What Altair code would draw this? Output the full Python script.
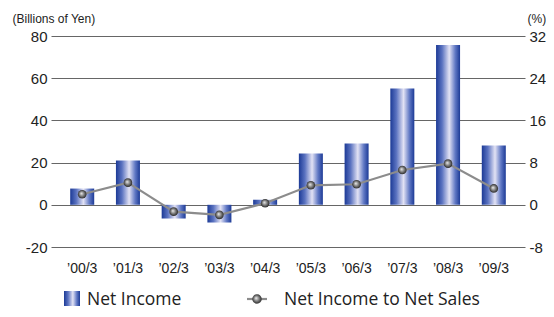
import altair as alt
import pandas as pd

years = ["’00/3", "’01/3", "’02/3", "’03/3", "’04/3", "’05/3", "’06/3", "’07/3", "’08/3", "’09/3"]
net_income = [7.7, 21.0, -6.5, -8.4, 2.4, 24.3, 29.0, 55.1, 75.7, 28.1]
ratio = [2.0, 4.2, -1.3, -1.9, 0.3, 3.7, 3.9, 6.6, 7.8, 3.1]

df = pd.DataFrame({"year": years, "income": net_income, "ratio": ratio})

bar_grad = alt.Gradient(
    gradient="linear", x1=0, x2=1, y1=0, y2=0,
    stops=[
        alt.GradientStop(offset=0, color="#1c3a96"),
        alt.GradientStop(offset=0.25, color="#5a72c0"),
        alt.GradientStop(offset=0.55, color="#e2e2f4"),
        alt.GradientStop(offset=0.8, color="#6078c4"),
        alt.GradientStop(offset=1, color="#1c3a96"),
    ],
)
ball_grad = alt.Gradient(
    gradient="radial", x1=0.4, y1=0.4, r1=0, x2=0.5, y2=0.5, r2=0.55,
    stops=[
        alt.GradientStop(offset=0, color="#f0f0f0"),
        alt.GradientStop(offset=0.5, color="#808080"),
        alt.GradientStop(offset=1, color="#1a1a1a"),
    ],
)

x = alt.X("year:N", sort=years, title=None,
          scale=alt.Scale(paddingInner=0.475, paddingOuter=0.42),
          axis=alt.Axis(labelAngle=0, ticks=False, domain=False, labelPadding=14,
                        labelFontSize=14, labelColor="#222", labelFont="Liberation Sans"))

bars = alt.Chart(df).mark_bar(color=bar_grad).encode(
    x=x,
    y=alt.Y("income:Q", scale=alt.Scale(domain=[-20, 80], nice=False),
            axis=alt.Axis(values=[-20, 0, 20, 40, 60, 80], grid=True, gridColor="#666",
                          domain=False, ticks=False, labelPadding=4, labelFontSize=15,
                          labelColor="#222", labelFont="Liberation Sans",
                          labelExpr="'' + datum.value",
                          title="(Billions of Yen)", titleAngle=0, titleAlign="left",
                          titleBaseline="alphabetic", titleX=-39, titleY=-14,
                          titleFontSize=12, titleFontWeight="normal", titleColor="#222",
                          titleFont="Liberation Sans")),
)

yr = alt.Y("ratio:Q", scale=alt.Scale(domain=[-8, 32], nice=False),
           axis=alt.Axis(values=[-8, 0, 8, 16, 24, 32], orient="right", grid=False,
                         domain=False, ticks=False, labelPadding=4, labelFontSize=15,
                         labelColor="#222", labelFont="Liberation Sans",
                         labelExpr="'' + datum.value",
                         title="(%)", titleAngle=0, titleAlign="left",
                         titleBaseline="alphabetic", titleX=2, titleY=-14,
                         titleFontSize=12, titleFontWeight="normal", titleColor="#222",
                         titleFont="Liberation Sans"))

line = alt.Chart(df).mark_line(color="#8c8c8c", strokeWidth=2.2).encode(x=x, y=yr)
pts = alt.Chart(df).mark_circle(size=75, opacity=1, color=ball_grad).encode(x=x, y=yr)

right = alt.layer(line, pts)

# legend
leg_df = pd.DataFrame({"label": ["Net Income", "Net Income to Net Sales"]})
leg_sq = alt.Chart(leg_df.iloc[[0]]).mark_rect(color=bar_grad).encode(
    x=alt.value(13), x2=alt.value(29), y=alt.value(255), y2=alt.value(270))
leg_t1 = alt.Chart(leg_df.iloc[[0]]).mark_text(align="left", baseline="alphabetic", fontSize=17.5,
                                               font="Open Sans", color="#222").encode(
    x=alt.value(36), y=alt.value(269), text="label:N")
leg_ln = alt.Chart(leg_df.iloc[[1]]).mark_rule(color="#8c8c8c", strokeWidth=2.2).encode(
    x=alt.value(196), x2=alt.value(216), y=alt.value(263))
leg_pt = alt.Chart(leg_df.iloc[[1]]).mark_circle(size=90, opacity=1, color=ball_grad).encode(
    x=alt.value(206), y=alt.value(263))
leg_t2 = alt.Chart(leg_df.iloc[[1]]).mark_text(align="left", baseline="alphabetic", fontSize=17.5,
                                               font="Open Sans", color="#222").encode(
    x=alt.value(233), y=alt.value(269), text="label:N")

main = alt.layer(bars, right).resolve_scale(y="independent")
legend = alt.layer(leg_sq, leg_t1, leg_ln, leg_pt, leg_t2)

chart = alt.layer(main, legend).resolve_scale(y="independent").properties(
    width=474, height=211,
    autosize=alt.AutoSizeParams(type="none"),
    padding={"left": 43, "top": 28, "right": 21, "bottom": 62},
).configure_view(stroke=None).configure_axis(gridWidth=1)

chart.save("out.html", embed_options={"renderer": "svg", "actions": False})
